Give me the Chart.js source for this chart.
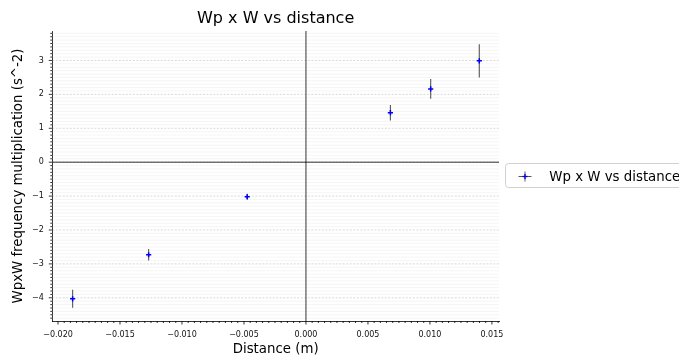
<!DOCTYPE html>
<html>
<head>
<meta charset="utf-8">
<script src="https://cdn.jsdelivr.net/npm/chart.js@4/dist/chart.umd.min.js"></script>
<style>
  html, body { margin: 0; padding: 0; background: #fff; }
  #wrap { width: 679px; height: 356px; position: relative; }
</style>
</head>
<body>
<div id="wrap"><canvas id="c" width="679" height="356"></canvas></div>
<script>
// ---- data ----
const xValues = [-0.01882, -0.01269, -0.00474, 0.00681, 0.01006, 0.01398];
const yValues = [-4.03, -2.73, -1.02, 1.46, 2.16, 2.99];
const yErrors = [0.265, 0.17, 0.09, 0.23, 0.29, 0.49];
const seriesLabel = 'Wp x W vs distance';
const chartTitle = 'Wp x W vs distance';
const xAxisTitle = 'Distance (m)';
const yAxisTitle = 'WpxW frequency multiplication (s^-2)';
const xRange = [-0.02046, 0.01557];
const yRange = [-4.684, 3.869];
const xMajorStep = 0.005, xMinorStep = 0.0005;
const yMajorStep = 1, yMinorStep = 0.1;

const FONT = "'DejaVu Sans', sans-serif";
const points = xValues.map((x, i) => ({ x: x, y: yValues[i] }));

function fmtNum(v, digits) {
  const s = Math.abs(v).toFixed(digits);
  return (v < -1e-12 ? '\u2212' : '') + s;
}
function isMultiple(v, step) {
  const r = v / step;
  return Math.abs(r - Math.round(r)) < 1e-6;
}
function stepValues(min, max, step) {
  const out = [];
  const start = Math.ceil(min / step - 1e-9);
  const end = Math.floor(max / step + 1e-9);
  for (let k = start; k <= end; k++) out.push(k * step);
  return out;
}

const decorPlugin = {
  id: 'decor',
  beforeDatasetsDraw(chart) {
    const { ctx, chartArea: a, scales: { x, y } } = chart;
    ctx.save();
    ctx.beginPath(); ctx.rect(a.left, a.top, a.right - a.left, a.bottom - a.top); ctx.clip();
    // minor horizontal grid
    ctx.strokeStyle = '#efefef'; ctx.lineWidth = 0.6; ctx.setLineDash([]);
    stepValues(yRange[0], yRange[1], yMinorStep).forEach(v => {
      if (isMultiple(v, yMajorStep)) return;
      const py = y.getPixelForValue(v);
      ctx.beginPath(); ctx.moveTo(a.left, py); ctx.lineTo(a.right, py); ctx.stroke();
    });
    // major horizontal grid (dashed)
    ctx.strokeStyle = '#c8c8c8'; ctx.lineWidth = 0.7; ctx.setLineDash([2, 1.5]);
    stepValues(yRange[0], yRange[1], yMajorStep).forEach(v => {
      const py = y.getPixelForValue(v);
      ctx.beginPath(); ctx.moveTo(a.left, py); ctx.lineTo(a.right, py); ctx.stroke();
    });
    ctx.setLineDash([]);
    // zero lines
    ctx.strokeStyle = '#000'; ctx.lineWidth = 0.8;
    const y0 = y.getPixelForValue(0), x0 = x.getPixelForValue(0);
    ctx.beginPath(); ctx.moveTo(a.left, y0); ctx.lineTo(a.right, y0); ctx.stroke();
    ctx.beginPath(); ctx.moveTo(x0, a.top); ctx.lineTo(x0, a.bottom); ctx.stroke();
    // error bars
    ctx.strokeStyle = '#555'; ctx.lineWidth = 1.1;
    xValues.forEach((xv, i) => {
      const px = x.getPixelForValue(xv);
      const p1 = y.getPixelForValue(yValues[i] - yErrors[i]);
      const p2 = y.getPixelForValue(yValues[i] + yErrors[i]);
      ctx.beginPath(); ctx.moveTo(px, p1); ctx.lineTo(px, p2); ctx.stroke();
    });
    ctx.restore();
  },
  afterDraw(chart) {
    const { ctx, chartArea: a, scales: { x, y } } = chart;
    ctx.save();
    ctx.strokeStyle = '#000'; ctx.lineWidth = 0.8;
    // x ticks
    stepValues(xRange[0], xRange[1], xMinorStep).forEach(v => {
      const px = x.getPixelForValue(v);
      const len = isMultiple(v, xMajorStep) ? 3.5 : 2;
      ctx.beginPath(); ctx.moveTo(px, a.bottom); ctx.lineTo(px, a.bottom + len); ctx.stroke();
    });
    // y ticks
    stepValues(yRange[0], yRange[1], yMinorStep).forEach(v => {
      const py = y.getPixelForValue(v);
      const len = isMultiple(v, yMajorStep) ? 3.5 : 2;
      ctx.beginPath(); ctx.moveTo(a.left, py); ctx.lineTo(a.left - len, py); ctx.stroke();
    });
    // legend
    const lx = 505.5, ly = 163.5, lw = 200, lh = 24;
    ctx.fillStyle = 'rgba(255,255,255,0.9)';
    ctx.strokeStyle = '#d0d0d0'; ctx.lineWidth = 1;
    ctx.beginPath();
    if (ctx.roundRect) ctx.roundRect(lx, ly, lw, lh, 3); else ctx.rect(lx, ly, lw, lh);
    ctx.fill(); ctx.stroke();
    const mx = 525, my = 176.5;
    ctx.strokeStyle = '#555'; ctx.lineWidth = 1;
    ctx.beginPath(); ctx.moveTo(mx - 6.5, my); ctx.lineTo(mx + 6.5, my); ctx.stroke();
    ctx.beginPath(); ctx.moveTo(mx, my - 5); ctx.lineTo(mx, my + 5); ctx.stroke();
    ctx.strokeStyle = 'blue'; ctx.lineWidth = 1.3;
    ctx.beginPath(); ctx.moveTo(mx - 2.5, my); ctx.lineTo(mx + 2.5, my); ctx.stroke();
    ctx.beginPath(); ctx.moveTo(mx, my - 2.5); ctx.lineTo(mx, my + 2.5); ctx.stroke();
    ctx.fillStyle = '#000';
    ctx.font = '13.33px ' + FONT;
    ctx.textBaseline = 'alphabetic'; ctx.textAlign = 'left';
    ctx.fillText(seriesLabel, 549.3, 181);
    ctx.restore();
  }
};

new Chart(document.getElementById('c'), {
  type: 'scatter',
  data: {
    datasets: [{
      label: seriesLabel,
      data: points,
      showLine: false,
      pointStyle: 'cross',
      pointRadius: 2.6,
      pointHoverRadius: 2.6,
      borderColor: 'blue',
      backgroundColor: 'blue',
      borderWidth: 1.5
    }]
  },
  plugins: [decorPlugin],
  options: {
    responsive: false,
    animation: false,
    events: [],
    layout: { padding: { left: 0, right: 180, top: 0, bottom: 0 } },
    plugins: {
      legend: { display: false },
      tooltip: { enabled: false },
      title: {
        display: true,
        text: chartTitle,
        fullSize: false,
        color: '#000',
        font: { family: FONT, size: 16, weight: 'normal', lineHeight: 1.2 },
        padding: { top: 9.5, bottom: 2.3 }
      }
    },
    scales: {
      x: {
        type: 'linear',
        min: xRange[0], max: xRange[1],
        grid: { display: false, drawTicks: false },
        border: { display: true, color: '#000', width: 0.8 },
        ticks: {
          stepSize: xMajorStep,
          includeBounds: false,
          autoSkip: false,
          maxRotation: 0,
          padding: 9.5,
          color: '#111',
          font: { family: FONT, size: 8 },
          callback: v => isMultiple(v, xMajorStep) ? fmtNum(v, 3) : ''
        },
        title: {
          display: true, text: xAxisTitle, color: '#000',
          font: { family: FONT, size: 13.33, lineHeight: 1 },
          padding: { top: 0, bottom: 0 }
        },
        afterFit: s => { s.height = 35; }
      },
      y: {
        type: 'linear',
        min: yRange[0], max: yRange[1],
        grid: { display: false, drawTicks: false },
        border: { display: true, color: '#000', width: 0.8 },
        ticks: {
          stepSize: yMajorStep,
          includeBounds: false,
          autoSkip: false,
          padding: 8.5,
          color: '#111',
          font: { family: FONT, size: 8 },
          callback: v => isMultiple(v, yMajorStep) ? fmtNum(v, 0) : ''
        },
        title: {
          display: true, text: yAxisTitle, color: '#000',
          font: { family: FONT, size: 13.33, lineHeight: 1 },
          padding: { top: 12.2, bottom: 0 }
        },
        afterFit: s => { s.width = 52.3; }
      }
    }
  }
});
</script>
</body>
</html>
